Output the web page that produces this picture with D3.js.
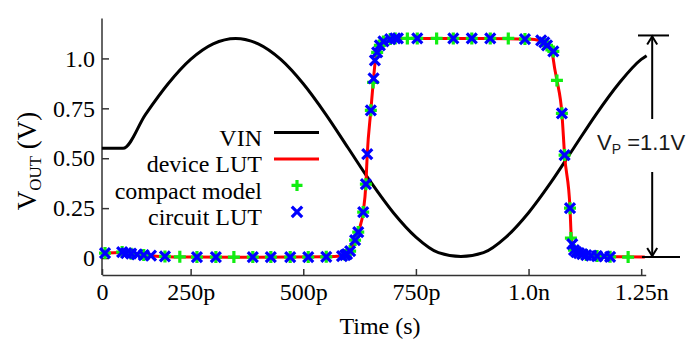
<!DOCTYPE html>
<html><head><meta charset="utf-8">
<script src="https://cdn.jsdelivr.net/npm/d3@7"></script>
<style>html,body{margin:0;padding:0;background:#fff;}svg{display:block;}</style>
</head><body>
<svg id="c" width="687" height="346"></svg>
<script>
// time in ps, voltage in V
const xTickVals = [53.3, 250, 500, 750, 1000, 1250];
const xTickLabels = ["0", "250p", "500p", "750p", "1.0n", "1.25n"];
const yTickVals = [0, 0.25, 0.5, 0.75, 1.0];
const yTickLabels = ["0", "0.25", "0.50", "0.75", "1.0"];

const vinT = [53, 100, 150, 200, 250, 300, 350, 400, 450, 500, 550, 600, 650, 700, 750, 800, 850, 900, 950, 1000, 1050, 1100, 1150, 1200, 1250, 1262];
const vinV = [0.55, 0.55, 0.72, 0.873, 0.995, 1.073, 1.10, 1.073, 0.995, 0.873, 0.72, 0.55, 0.38, 0.227, 0.105, 0.027, 0.008, 0.027, 0.105, 0.227, 0.38, 0.55, 0.72, 0.873, 0.995, 1.014];

const dlT = [53, 60, 100, 130, 160, 200, 260, 400, 550, 585, 600, 615, 625, 633, 639, 642, 650, 656, 660, 666, 672, 680, 695, 720, 900, 1000, 1025, 1040, 1052, 1058, 1063, 1074, 1080, 1092, 1095, 1100, 1110, 1125, 1150, 1200, 1258];
const dlV = [0.02, 0.025, 0.028, 0.018, 0.012, 0.007, 0.005, 0.004, 0.006, 0.01, 0.03, 0.09, 0.15, 0.23, 0.37, 0.52, 0.74, 0.90, 0.99, 1.04, 1.07, 1.088, 1.097, 1.10, 1.10, 1.097, 1.09, 1.07, 1.03, 0.95, 0.89, 0.725, 0.516, 0.25, 0.10, 0.045, 0.028, 0.018, 0.01, 0.006, 0.005];

const cmT = [60, 98, 118, 146, 193, 226, 264, 306, 346, 388, 428, 471, 511, 551, 593, 604, 615, 622, 633, 639, 650, 655, 664, 670, 678, 693, 704, 731, 753, 796, 833, 874, 915, 955, 992, 1035, 1041, 1055, 1063, 1074, 1080, 1092, 1094, 1101, 1112, 1128, 1152, 1181, 1221];
const cmV = [0.025, 0.03, 0.022, 0.015, 0.008, 0.006, 0.005, 0.005, 0.005, 0.005, 0.005, 0.005, 0.005, 0.006, 0.015, 0.035, 0.09, 0.13, 0.23, 0.37, 0.74, 0.88, 1.03, 1.065, 1.085, 1.097, 1.10, 1.10, 1.10, 1.10, 1.10, 1.10, 1.10, 1.10, 1.097, 1.08, 1.065, 1.035, 0.89, 0.725, 0.516, 0.25, 0.10, 0.04, 0.025, 0.015, 0.01, 0.006, 0.005];

const clT = [60, 98, 107, 118, 131, 146, 162, 193, 264, 306, 388, 428, 471, 511, 551, 586, 593, 597, 604, 615, 622, 633, 639, 642, 650, 656, 659, 664, 670, 678, 693, 704, 710, 753, 833, 874, 915, 992, 1028, 1035, 1041, 1055, 1074, 1080, 1092, 1097, 1101, 1106, 1112, 1119, 1128, 1139, 1152, 1168, 1181];
const clV = [0.025, 0.03, 0.025, 0.022, 0.018, 0.015, 0.012, 0.008, 0.005, 0.005, 0.005, 0.005, 0.005, 0.005, 0.006, 0.01, 0.015, 0.02, 0.035, 0.09, 0.13, 0.23, 0.37, 0.52, 0.74, 0.90, 0.99, 1.03, 1.065, 1.085, 1.097, 1.10, 1.10, 1.10, 1.10, 1.10, 1.10, 1.097, 1.09, 1.08, 1.065, 1.035, 0.725, 0.516, 0.25, 0.07, 0.04, 0.03, 0.025, 0.02, 0.015, 0.012, 0.01, 0.008, 0.006];

const legendNames = ["VIN", "device LUT", "compact model", "circuit LUT"];
const vpValue = 1.1;

const svg = d3.select("#c");
const x = d3.scaleLinear().domain([53.3, 1260]).range([102, 645.7]);
const y = d3.scaleLinear().domain([-0.085, 1.2]).range([275, 18.5]);
const serif = "'Liberation Serif','Times New Roman',serif";
const axisCol = "#333";

// axes
const gx = svg.append("g").attr("transform", "translate(0,275)")
  .call(d3.axisBottom(x).tickValues(xTickVals).tickFormat((d, i) => xTickLabels[i]).tickSize(-6).tickSizeOuter(0).tickPadding(8));
const gy = svg.append("g").attr("transform", "translate(102,0)")
  .call(d3.axisLeft(y).tickValues(yTickVals).tickFormat((d, i) => yTickLabels[i]).tickSize(-7).tickSizeOuter(0).tickPadding(7));
[gx, gy].forEach(g => {
  g.selectAll("path.domain").attr("stroke", axisCol).attr("stroke-width", 1.5);
  g.selectAll(".tick line").attr("stroke", axisCol).attr("stroke-width", 1.5);
  g.selectAll("text").attr("font-family", serif).attr("font-size", 24).attr("fill", "#000");
});
gy.select("path.domain").attr("d", `M0,${y(1.2)}V${y(-0.085)}`);

// lines
const line = d3.line().x(d => x(d[0])).y(d => y(d[1])).curve(d3.curveMonotoneX);
svg.append("path").datum(d3.zip(vinT, vinV)).attr("d", line)
  .attr("fill", "none").attr("stroke", "#000").attr("stroke-width", 3);
svg.append("path").datum(d3.zip(dlT, dlV)).attr("d", line)
  .attr("fill", "none").attr("stroke", "#ff0000").attr("stroke-width", 3);

const plusPath = s => `M${-s},0H${s}M0,${-s}V${s}`;
const crossPath = s => `M${-s},${-s}L${s},${s}M${-s},${s}L${s},${-s}`;
const green = "#11ee11", blue = "#0000ff";

svg.append("g").selectAll("path").data(d3.zip(cmT, cmV)).join("path")
  .attr("transform", d => `translate(${x(d[0])},${y(d[1])})`)
  .attr("d", plusPath(6)).attr("stroke", green).attr("stroke-width", 3.2).attr("fill", "none");
svg.append("g").selectAll("path").data(d3.zip(clT, clV)).join("path")
  .attr("transform", d => `translate(${x(d[0])},${y(d[1])})`)
  .attr("d", crossPath(5)).attr("stroke", blue).attr("stroke-width", 3.2).attr("fill", "none");

// legend
const lg = svg.append("g");
const lgBase = [145.7, 172.2, 198.7, 225.2];
legendNames.forEach((n, i) => {
  lg.append("text").attr("x", 262).attr("y", lgBase[i]).attr("text-anchor", "end")
    .attr("font-family", serif).attr("font-size", 24).text(n);
  const cy = lgBase[i] - 13.3, cx = 297;
  if (i === 0) lg.append("line").attr("x1", 274).attr("x2", 319).attr("y1", cy).attr("y2", cy).attr("stroke", "#000").attr("stroke-width", 3);
  if (i === 1) lg.append("line").attr("x1", 274).attr("x2", 319).attr("y1", cy).attr("y2", cy).attr("stroke", "#ff0000").attr("stroke-width", 3);
  if (i === 2) lg.append("path").attr("transform", `translate(${cx},${cy})`).attr("d", plusPath(5.5)).attr("stroke", green).attr("stroke-width", 3.2);
  if (i === 3) lg.append("path").attr("transform", `translate(${cx},${cy})`).attr("d", crossPath(5.2)).attr("stroke", blue).attr("stroke-width", 3.2);
});

// axis titles
svg.append("text").attr("x", 380).attr("y", 334).attr("text-anchor", "middle")
  .attr("font-family", serif).attr("font-size", 24).text("Time (s)");
const yl = svg.append("text").attr("transform", "translate(36,161) rotate(-90)").attr("text-anchor", "middle")
  .attr("font-family", serif).attr("font-size", 27);
yl.append("tspan").text("V");
yl.append("tspan").attr("font-size", 17).attr("dy", 5).text("OUT");
yl.append("tspan").attr("dy", -5).text(" (V)");

// Vp annotation
const ax = x(1250) + 11;
const yTop = y(vpValue) - 3, yBot = y(0) - 1;
const ann = svg.append("g").attr("stroke", "#000").attr("stroke-width", 2).attr("fill", "none");
ann.append("line").attr("x1", 638).attr("x2", 669).attr("y1", yTop).attr("y2", yTop);
ann.append("line").attr("x1", 642).attr("x2", 680).attr("y1", yBot).attr("y2", yBot);
ann.append("line").attr("x1", ax).attr("x2", ax).attr("y1", yTop).attr("y2", 119);
ann.append("line").attr("x1", ax).attr("x2", ax).attr("y1", 172).attr("y2", yBot);
ann.append("path").attr("d", `M${ax - 5},${yTop + 9}L${ax},${yTop + 1}L${ax + 5},${yTop + 9}`);
ann.append("path").attr("d", `M${ax - 5},${yBot - 9}L${ax},${yBot - 1}L${ax + 5},${yBot - 9}`);
const vt = svg.append("text").attr("x", 597).attr("y", 149.5).attr("font-family", "'Liberation Sans',Arial,sans-serif")
  .attr("font-size", 22).attr("fill", "#1a1a1a");
vt.append("tspan").text("V");
vt.append("tspan").attr("font-size", 14).attr("dy", 4).text("P");
vt.append("tspan").attr("dy", -4).text(" =1.1V");
</script>
</body></html>
